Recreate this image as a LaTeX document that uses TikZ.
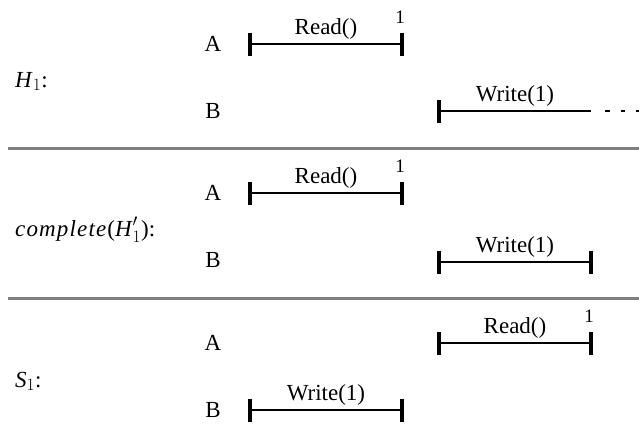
\documentclass[tikz,border=0pt]{standalone}
\usepackage{fontspec}
\setmainfont{Liberation Serif}
\begin{document}
\begin{tikzpicture}[x=1pt,y=-1pt,
  lbl/.style={font=\fontsize{23}{27}\selectfont, inner sep=0pt, anchor=base},
  hist/.style={font=\fontsize{23}{27}\selectfont, inner sep=0pt, anchor=base west},
  ret/.style={font=\fontsize{19}{22}\selectfont, inner sep=0pt, anchor=base},
  opline/.style={line width=2.4pt},
  tick/.style={line width=3.2pt},
  sepline/.style={line width=2.1pt, draw=gray}]
\useasboundingbox (0,0) rectangle (639,423);

% ---------- section 1 ----------
\node[hist] (h1) at (15,87) {\textit{H}$_1$:};
\node[lbl] (a1) at (213,51) {A};
\node[lbl] (b1) at (213,118) {B};
\coordinate (r1s) at (250,44);
\coordinate (r1e) at (402,44);
\draw[opline] (r1s) -- (r1e) node[lbl, midway, above=10pt, anchor=base] (r1l) {Read()};
\draw[tick] ([yshift=11.5pt]r1s) -- ([yshift=-11.5pt]r1s);
\draw[tick] ([yshift=11.5pt]r1e) -- ([yshift=-11.5pt]r1e);
\node[ret] (r1v) at (400,23) {1};
\coordinate (w1s) at (439,111);
\coordinate (w1e) at (591,111);
\coordinate (w1d) at (605,111);
\coordinate (w1f) at (640,111);
\draw[opline] (w1s) -- (w1e) node[lbl, midway, above=10pt, anchor=base] (w1l) {Write(1)};
\draw[tick] ([yshift=11.5pt]w1s) -- ([yshift=-11.5pt]w1s);
\draw[opline, dash pattern=on 4.5pt off 11pt] (w1d) -- (w1f);

\draw[sepline] (8,148.5) coordinate (s1a) -- (639,148.5) coordinate (s1b);

% ---------- section 2 ----------
\node[hist] (h2) at (15,236) {\textit{\addfontfeature{LetterSpace=5}complete}(\textit{H}$'_1$):};
\node[lbl] (a2) at (213,200) {A};
\node[lbl] (b2) at (213,267) {B};
\coordinate (r2s) at (250,193);
\coordinate (r2e) at (402,193);
\draw[opline] (r2s) -- (r2e) node[lbl, midway, above=10pt, anchor=base] (r2l) {Read()};
\draw[tick] ([yshift=11.5pt]r2s) -- ([yshift=-11.5pt]r2s);
\draw[tick] ([yshift=11.5pt]r2e) -- ([yshift=-11.5pt]r2e);
\node[ret] (r2v) at (400,172) {1};
\coordinate (w2s) at (439,262);
\coordinate (w2e) at (591,262);
\draw[opline] (w2s) -- (w2e) node[lbl, midway, above=10pt, anchor=base] (w2l) {Write(1)};
\draw[tick] ([yshift=11.5pt]w2s) -- ([yshift=-11.5pt]w2s);
\draw[tick] ([yshift=11.5pt]w2e) -- ([yshift=-11.5pt]w2e);

\draw[sepline] (8,298.5) coordinate (s2a) -- (639,298.5) coordinate (s2b);

% ---------- section 3 ----------
\node[hist] (h3) at (15,387) {\textit{S}$_1$:};
\node[lbl] (a3) at (213,350) {A};
\node[lbl] (b3) at (213,417) {B};
\coordinate (r3s) at (439,343);
\coordinate (r3e) at (591,343);
\draw[opline] (r3s) -- (r3e) node[lbl, midway, above=10pt, anchor=base] (r3l) {Read()};
\draw[tick] ([yshift=11.5pt]r3s) -- ([yshift=-11.5pt]r3s);
\draw[tick] ([yshift=11.5pt]r3e) -- ([yshift=-11.5pt]r3e);
\node[ret] (r3v) at (589,322) {1};
\coordinate (w3s) at (250,410);
\coordinate (w3e) at (402,410);
\draw[opline] (w3s) -- (w3e) node[lbl, midway, above=10pt, anchor=base] (w3l) {Write(1)};
\draw[tick] ([yshift=11.5pt]w3s) -- ([yshift=-11.5pt]w3s);
\draw[tick] ([yshift=11.5pt]w3e) -- ([yshift=-11.5pt]w3e);
\end{tikzpicture}
\end{document}
